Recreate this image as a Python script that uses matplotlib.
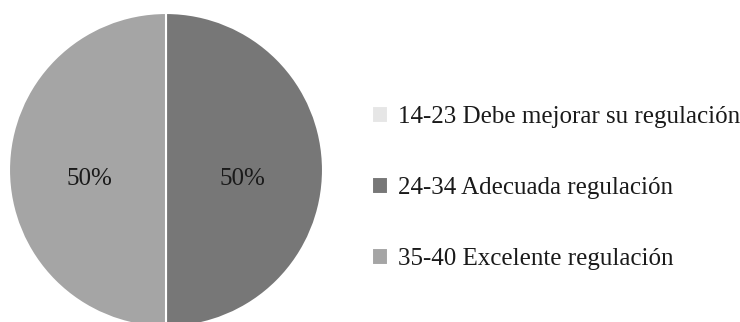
import matplotlib.pyplot as plt

categorias = ['14-23 Debe mejorar su regulación', '24-34 Adecuada regulación', '35-40 Excelente regulación']
valores = [0, 50, 50]
cores = ['#e6e6e6', '#777777', '#a5a5a5']


def rotulo(pct):
    return '' if pct < 0.5 else f'{pct:.0f}%'


plt.rcParams['font.family'] = ['Liberation Serif', 'DejaVu Serif']

fig = plt.figure(figsize=(7.4, 3.22), dpi=100)
ax = fig.add_axes([0, 0, 1, 1])

# centro do gráfico em (166, 170) px, raio de 157 px
r = 157
ax.set_xlim(-166 / r, (740 - 166) / r)
ax.set_ylim(-(322 - 170) / r, 170 / r)
ax.axis('off')

fatias, textos, pcts = ax.pie(valores, colors=cores, startangle=90, counterclock=False,
                              autopct=rotulo, pctdistance=0.49,
                              wedgeprops=dict(edgecolor='white', linewidth=1.5),
                              textprops=dict(fontsize=18, color='#1a1a1a'))
for t in pcts:
    x, y = t.get_position()
    t.set_position((x, y - 0.055))
ax.set_xlim(-166 / r, (740 - 166) / r)
ax.set_ylim(-(322 - 170) / r, 170 / r)

ax.legend(fatias, categorias, loc='center left', bbox_to_anchor=(372 / 740, 134 / 322),
          bbox_transform=fig.transFigure, frameon=False, fontsize=18,
          handlelength=0.65, handleheight=0.65, handletextpad=0.4,
          labelspacing=1.95, borderpad=0, borderaxespad=0, labelcolor='#1a1a1a')

fig.savefig('out.png', dpi=100)
